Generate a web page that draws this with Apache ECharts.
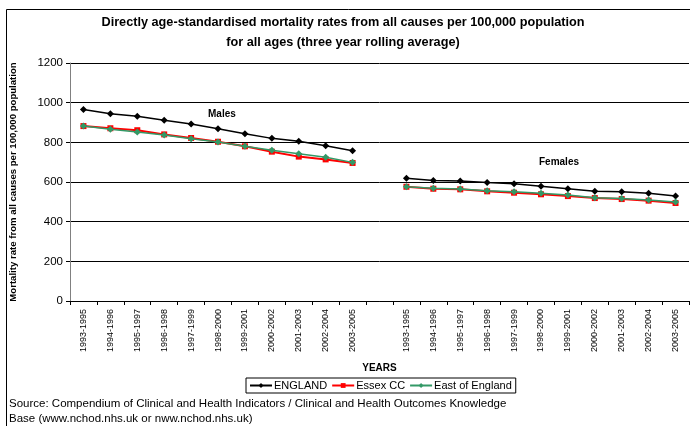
<!DOCTYPE html>
<html>
<head>
<meta charset="utf-8">
<script src="https://cdn.jsdelivr.net/npm/echarts@6/dist/echarts.min.js"></script>
<style>
  html,body{margin:0;padding:0;background:#fff}
  #main{width:690px;height:426px}
</style>
</head>
<body>
<div id="main"></div>
<script>
// three year rolling periods, males then a gap then females
const periods = ['1993-1995','1994-1996','1995-1997','1996-1998','1997-1999','1998-2000','1999-2001','2000-2002','2001-2003','2002-2004','2003-2005']
const categories = periods.concat([''], periods)

const englandMales = [966, 944, 931, 911, 892, 869, 843, 820, 805, 783, 758]
const englandFemales = [619, 607, 605, 597, 591, 578, 566, 553, 551, 543, 529]
const essexMales = [882, 871, 861, 840, 822, 803, 780, 753, 728, 714, 696]
const essexFemales = [576, 566, 563, 553, 546, 538, 529, 519, 514, 506, 494]
const eastMales = [882, 866, 852, 837, 818, 802, 780, 760, 743, 725, 699]
const eastFemales = [576, 568, 565, 556, 551, 543, 534, 521, 517, 509, 499]

const yTicks = [0, 200, 400, 600, 800, 1000, 1200]

const font = 'Liberation Sans, Arial, sans-serif'

function join(m, f){
  return m.concat([null], f)
}

const myChart = echarts.init(document.querySelector('#main'))
const option = {
  animation: false,
  textStyle: { fontFamily: font },
  title: {
    text: 'Directly age-standardised mortality rates from all causes per 100,000 population\nfor all ages (three year rolling average)',
    left: 338,
    top: 7,
    textAlign: 'center',
    textStyle: { fontSize: 12.7, fontWeight: 'bold', color: '#000', lineHeight: 20, fontFamily: font }
  },
  grid: { left: 67, right: 1, top: 63, bottom: 125 },
  legend: {
    left: 246,
    top: 378,
    width: 340,
    padding: [2, 4, 2, 3],
    borderColor: '#000',
    borderWidth: 1,
    borderRadius: 0,
    itemGap: 4,
    itemWidth: 22,
    itemHeight: 6,
    textStyle: { fontSize: 11, color: '#000', padding: [0, 0, 0, -3] },
    data: ['ENGLAND', 'Essex CC', 'East of England']
  },
  xAxis: {
    type: 'category',
    data: categories,
    boundaryGap: true,
    name: 'YEARS',
    nameLocation: 'middle',
    nameGap: 62,
    nameTextStyle: { fontSize: 10, fontWeight: 'bold', color: '#000' },
    axisLine: { lineStyle: { color: '#000', width: 1 } },
    axisTick: { show: true, interval: 0, length: 4, lineStyle: { color: '#000' } },
    axisLabel: { interval: 0, rotate: 90, fontSize: 9, color: '#000', margin: 8 }
  },
  yAxis: {
    type: 'value',
    min: 0,
    max: 1200,
    interval: 200,
    name: 'Mortality rate from all causes per 100,000 population',
    nameLocation: 'middle',
    nameGap: 52,
    nameTextStyle: { fontSize: 9.6, fontWeight: 'bold', color: '#000' },
    axisLine: { show: true, lineStyle: { color: '#808080', width: 1 } },
    axisTick: { show: true, length: 4, lineStyle: { color: '#000' } },
    axisLabel: {
      fontSize: 11.5, color: '#000', margin: 7,
      formatter: v => yTicks.includes(v) ? String(v) : ''
    },
    splitLine: { show: true, lineStyle: { color: '#000', width: 1 } }
  },
  graphic: [
    {
      type: 'rect',
      shape: { x: 6.5, y: 9.5, width: 700, height: 430 },
      style: { fill: 'none', stroke: '#000', lineWidth: 1 },
      silent: true
    },
    {
      type: 'text', left: 208, top: 109,
      style: { text: 'Males', fontSize: 10, fontWeight: 'bold', fill: '#000', fontFamily: font }
    },
    {
      type: 'text', left: 539, top: 157,
      style: { text: 'Females', fontSize: 10, fontWeight: 'bold', fill: '#000', fontFamily: font }
    },
    {
      type: 'text', left: 9, top: 396,
      style: {
        text: 'Source: Compendium of Clinical and Health Indicators / Clinical and Health Outcomes Knowledge\nBase (www.nchod.nhs.uk or nww.nchod.nhs.uk)',
        fontSize: 11.5, lineHeight: 15, fill: '#000', fontFamily: font
      }
    }
  ],
  series: [
    {
      name: 'ENGLAND',
      type: 'line',
      data: join(englandMales, englandFemales),
      symbol: 'diamond',
      symbolSize: 7,
      showAllSymbol: true,
      color: '#000',
      lineStyle: { width: 1.5, color: '#000' },
      itemStyle: { color: '#000' },
      z: 3
    },
    {
      name: 'Essex CC',
      type: 'line',
      data: join(essexMales, essexFemales),
      symbol: 'rect',
      symbolSize: 6,
      showAllSymbol: true,
      color: '#ff0000',
      lineStyle: { width: 2, color: '#ff0000' },
      itemStyle: { color: '#ff0000' },
      z: 2
    },
    {
      name: 'East of England',
      type: 'line',
      data: join(eastMales, eastFemales),
      symbol: 'diamond',
      symbolSize: 7,
      showAllSymbol: true,
      color: '#339966',
      lineStyle: { width: 1.5, color: '#339966' },
      itemStyle: { color: '#339966' },
      z: 4
    }
  ]
}
myChart.setOption(option)
</script>
</body>
</html>
